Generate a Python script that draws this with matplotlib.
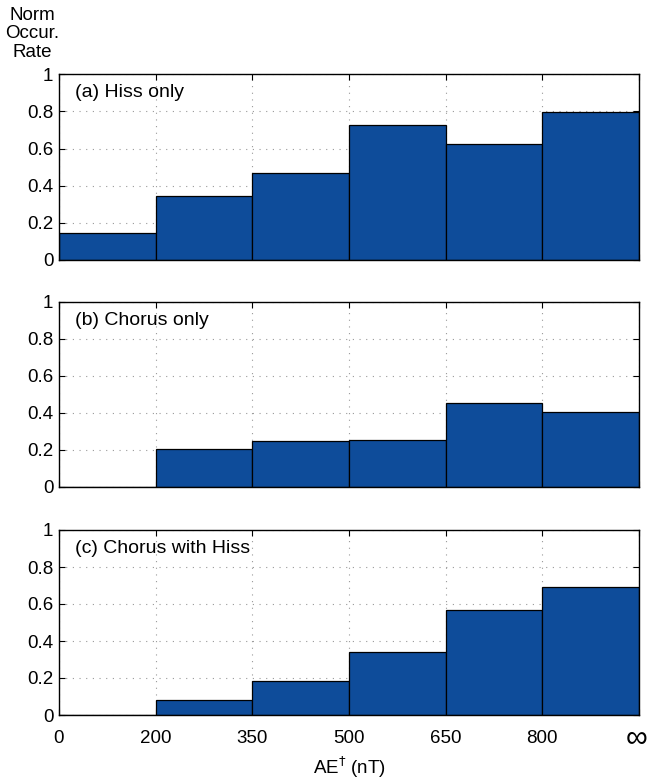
import matplotlib
matplotlib.use("Agg")
import matplotlib.pyplot as plt
import numpy as np

plt.rcParams['font.family'] = ['Liberation Sans', 'DejaVu Sans']

bin_labels = ['0', '200', '350', '500', '650', '800', '∞']
hiss_only = [0.144, 0.346, 0.469, 0.728, 0.623, 0.796]
chorus_only = [0.0, 0.203, 0.246, 0.252, 0.454, 0.404]
chorus_with_hiss = [0.0, 0.081, 0.185, 0.34, 0.568, 0.693]
panel_titles = ['(a) Hiss only', '(b) Chorus only', '(c) Chorus with Hiss']
series = [hiss_only, chorus_only, chorus_with_hiss]

bar_color = '#0E4C9A'
W, H = 647, 779
fig = plt.figure(figsize=(W / 100, H / 100), dpi=100)

fs = 13.5
left = 59 / W
width = (639 - 59) / W
tops = [74.3, 301.7, 530.0]
bottoms = [260.0, 486.7, 715.0]

for i, (vals, title) in enumerate(zip(series, panel_titles)):
    b = 1 - bottoms[i] / H
    h = (bottoms[i] - tops[i]) / H
    ax = fig.add_axes([left, b, width, h])
    x = np.arange(len(vals))
    ax.bar(x, vals, width=1.0, align='edge', color=bar_color,
           edgecolor='black', linewidth=0.9, zorder=3)
    ax.set_xlim(0, len(vals))
    ax.set_ylim(0, 1)
    ax.set_xticks(np.arange(len(bin_labels)))
    ax.set_yticks([0, 0.2, 0.4, 0.6, 0.8, 1])
    ax.set_yticklabels(['0', '0.2', '0.4', '0.6', '0.8', '1'])
    ax.grid(True, linestyle=(0, (1, 5)), color='#999999', linewidth=0.8, zorder=0)
    ax.set_axisbelow(True)
    ax.tick_params(direction='in', top=True, right=True, length=4,
                   width=0.8, labelsize=fs)
    ax.tick_params(axis='y', pad=4)
    ax.tick_params(axis='x', pad=11)
    for s in ax.spines.values():
        s.set_linewidth(1.0)
        s.set_zorder(5)
    if i < 2:
        ax.set_xticklabels([])
    else:
        ax.set_xticklabels(bin_labels[:-1] + [''])
        ax.annotate('∞', xy=(6, 0), xycoords='data', xytext=(-2, -23),
                    textcoords='offset pixels', ha='center', va='center',
                    fontsize=22, annotation_clip=False)
        ax.set_xlabel('AE$^{\\dagger}$ (nT)', fontsize=fs, labelpad=5)
    ax.text(0.028, 0.9, title, transform=ax.transAxes, ha='left', va='center',
            fontsize=fs + 0.5, zorder=6)

fig.text(32 / W, 1 - 34 / H, 'Norm\nOccur.\nRate', ha='center', va='center',
         fontsize=fs, linespacing=1.1)

fig.savefig('out.png', dpi=100)
